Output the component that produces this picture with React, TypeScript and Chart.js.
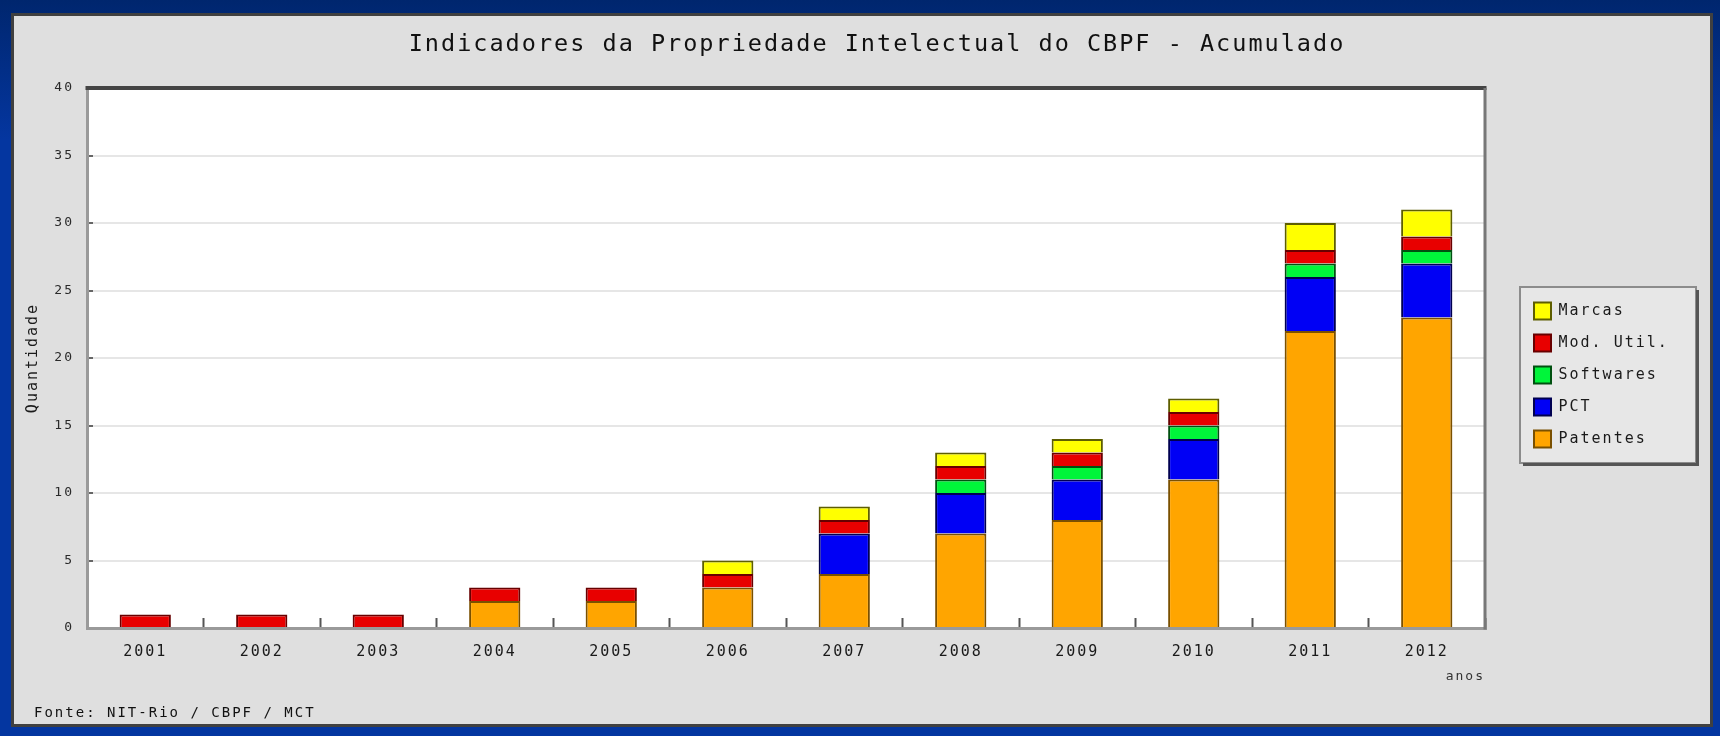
import React, { useEffect, useRef } from 'react';
import { Chart, registerables } from 'chart.js';

Chart.register(...registerables);

// ---- data ----
const years = ['2001', '2002', '2003', '2004', '2005', '2006', '2007', '2008', '2009', '2010', '2011', '2012'];
const patentes = [0, 0, 0, 2, 2, 3, 4, 7, 8, 11, 22, 23];
const pct = [0, 0, 0, 0, 0, 0, 3, 3, 3, 3, 4, 4];
const softwares = [0, 0, 0, 0, 0, 0, 0, 1, 1, 1, 1, 1];
const modUtil = [1, 1, 1, 1, 1, 1, 1, 1, 1, 1, 1, 1];
const marcas = [0, 0, 0, 0, 0, 1, 1, 1, 1, 1, 2, 2];
const yTicks = [0, 5, 10, 15, 20, 25, 30, 35, 40];

const TITLE = 'Indicadores da Propriedade Intelectual do CBPF - Acumulado';
const FOOTER = 'Fonte: NIT-Rio / CBPF / MCT';
const Y_TITLE = 'Quantidade';
const X_TITLE = 'anos';

const FONT = "'DejaVu Sans Mono', 'Liberation Mono', monospace";
const LEGEND_W = 235;

const framePlugin = {
  id: 'frameDeco',
  beforeUpdate(chart: any) {
    chart.ctx.letterSpacing = '2px';
  },
  beforeLayout(chart: any) {
    chart.ctx.letterSpacing = '2px';
    const lg = chart.legend;
    if (lg && !lg.__patched) {
      const orig = lg.fit.bind(lg);
      lg.fit = () => {
        orig();
        lg.width = LEGEND_W;
      };
      lg.__patched = true;
    }
  },
  afterLayout(chart: any) {
    const lg = chart.legend;
    const ca = chart.chartArea;
    if (lg) {
      lg.left = ca.right + 34;
      lg.right = lg.left + LEGEND_W;
      lg.top = ca.top + 17;
      lg.bottom = ca.bottom + 17;
    }
  },
  beforeDraw(chart: any) {
    const { ctx, chartArea: ca } = chart;
    ctx.letterSpacing = '2px';
    ctx.save();
    ctx.fillStyle = '#ffffff';
    ctx.fillRect(ca.left, ca.top, ca.right - ca.left, ca.bottom - ca.top);
    const lg = chart.legend;
    const hb = lg && lg.legendHitBoxes;
    if (hb && hb.length) {
      const top = Math.min(...hb.map((h: any) => h.top));
      const bot = Math.max(...hb.map((h: any) => h.top + h.height));
      const x0 = lg.left + 1;
      const x1 = x0 + 176;
      const y0 = top - 15.5;
      const y1 = bot + 15.5;
      ctx.fillStyle = '#e7e7e7';
      ctx.fillRect(x0, y0, x1 - x0, y1 - y0);
      ctx.strokeStyle = '#8c8c8c';
      ctx.lineWidth = 2;
      ctx.strokeRect(x0, y0, x1 - x0, y1 - y0);
      ctx.strokeStyle = '#555555';
      ctx.lineWidth = 3;
      ctx.beginPath();
      ctx.moveTo(x0 + 3, y1 + 1.5);
      ctx.lineTo(x1 + 1.5, y1 + 1.5);
      ctx.lineTo(x1 + 1.5, y0 + 3);
      ctx.stroke();
    }
    ctx.restore();
  },
  afterDraw(chart: any) {
    const { ctx, chartArea: ca } = chart;
    ctx.save();
    ctx.strokeStyle = '#444444';
    ctx.lineWidth = 4;
    ctx.beginPath();
    ctx.moveTo(ca.left - 1.5, ca.top);
    ctx.lineTo(ca.right + 1.5, ca.top);
    ctx.stroke();
    ctx.strokeStyle = '#777777';
    ctx.lineWidth = 3;
    ctx.beginPath();
    ctx.moveTo(ca.right, ca.top);
    ctx.lineTo(ca.right, ca.bottom + 1.5);
    ctx.stroke();
    ctx.restore();
  },
};

export default function App() {
  const ref = useRef<HTMLCanvasElement>(null);

  useEffect(() => {
    if (!ref.current) return;
    const chart = new Chart(ref.current, {
      type: 'bar',
      data: {
        labels: years,
        datasets: [
          { label: 'Patentes', data: patentes, backgroundColor: '#ffa500', borderColor: '#7a5000', borderWidth: 2 },
          { label: 'PCT', data: pct, backgroundColor: '#0000f5', borderColor: '#000050', borderWidth: 2 },
          { label: 'Softwares', data: softwares, backgroundColor: '#00f53a', borderColor: '#005010', borderWidth: 2 },
          { label: 'Mod. Util.', data: modUtil, backgroundColor: '#e80000', borderColor: '#680000', borderWidth: 2 },
          { label: 'Marcas', data: marcas, backgroundColor: '#ffff00', borderColor: '#5e5e00', borderWidth: 2 },
        ],
      },
      options: {
        responsive: false,
        animation: false,
        devicePixelRatio: 1,
        datasets: { bar: { categoryPercentage: 1, barPercentage: 0.44 } },
        layout: { padding: { left: 34, right: 0, top: 0, bottom: 0 } },
        plugins: {
          title: {
            display: true,
            text: TITLE,
            color: '#111',
            font: { family: FONT, size: 23.5, weight: 'normal', lineHeight: 1.2 },
            padding: { top: 30.8, bottom: 29 },
          },
          subtitle: {
            display: true,
            text: FOOTER,
            position: 'bottom',
            align: 'start',
            color: '#111',
            font: { family: FONT, size: 14, weight: 'normal', lineHeight: 1.2 },
            padding: { top: 10, bottom: 14.6 },
          },
          legend: {
            position: 'right',
            fullSize: false,
            reverse: true,
            labels: {
              font: { family: FONT, size: 15 },
              color: '#1a1a1a',
              boxWidth: 17,
              boxHeight: 17,
              padding: 15,
            },
          },
          tooltip: { enabled: false },
        },
        scales: {
          x: {
            stacked: true,
            offset: true,
            grid: {
              display: true,
              drawOnChartArea: false,
              drawTicks: true,
              tickLength: -10,
              tickColor: '#555',
              tickWidth: 2,
              offset: true,
            },
            border: { display: true, color: '#9a9a9a', width: 3 },
            ticks: { color: '#1a1a1a', font: { family: FONT, size: 15 }, padding: 25, maxRotation: 0, autoSkip: false },
            title: {
              display: true,
              text: X_TITLE,
              align: 'end',
              color: '#333',
              font: { family: FONT, size: 13 },
              padding: { top: 0, bottom: 9.8 },
            },
            afterFit: (s: any) => {
              s.height = 66.6;
            },
          },
          y: {
            stacked: true,
            min: 0,
            max: 40,
            afterBuildTicks: (s: any) => {
              s.ticks = yTicks.map((v) => ({ value: v }));
            },
            ticks: { stepSize: 5, color: '#2a2a2a', font: { family: FONT, size: 13 }, padding: 19 },
            grid: { color: '#e6e6e6', lineWidth: 2, tickColor: '#666', tickWidth: 2, tickLength: -6 },
            border: { display: true, color: '#9a9a9a', width: 3 },
            title: {
              display: true,
              text: Y_TITLE,
              color: '#1a1a1a',
              font: { family: FONT, size: 15 },
              padding: { top: -9.5, bottom: 0 },
            },
            afterFit: (s: any) => {
              s.width = 53;
            },
          },
        },
      } as any,
      plugins: [framePlugin as any],
    });
    return () => chart.destroy();
  }, []);

  return (
    <div
      style={{
        position: 'fixed',
        left: 0,
        top: 0,
        width: 1720,
        height: 736,
        overflow: 'hidden',
        background: 'linear-gradient(180deg, #00266e 0px, #0436a0 140px, #0436a0 100%)',
      }}
    >
      <div
        style={{
          position: 'absolute',
          left: 11,
          top: 13,
          width: 1696,
          height: 708,
          background: '#dfdfdf',
          border: '3px solid #404040',
        }}
      />
      <canvas
        ref={ref}
        width={1720}
        height={736}
        style={{ position: 'absolute', left: 0, top: 0, width: 1720, height: 736 }}
      />
    </div>
  );
}
